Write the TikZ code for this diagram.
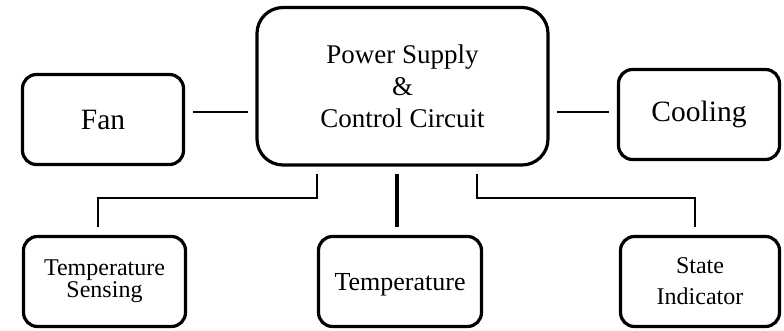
\documentclass[tikz,border=0pt]{standalone}
\usepackage{fontspec}
\setmainfont{Liberation Serif}
\begin{document}
\begin{tikzpicture}[x=1pt,y=-1pt]
\tikzset{
  box/.style={draw=black, line width=3.2pt, rounded corners=14pt, inner sep=0pt,
              align=center, minimum height=90pt},
  conn/.style={draw=black, line width=2.4pt, shorten <=7.5pt, shorten >=7.5pt},
}
\useasboundingbox (0,0) rectangle (784,331);

\node[box, rounded corners=26pt, minimum width=291pt, minimum height=157.5pt,
      font=\fontsize{27}{32}\selectfont] (central) at (402.5,86.25)
      {Power Supply\\\&\\Control Circuit};
\node[box, minimum width=161pt, font=\fontsize{29.5}{34}\selectfont] (fan) at (103,119.5) {Fan};
\node[box, minimum width=161pt, font=\fontsize{29.5}{34}\selectfont] (cool) at (699,114.5) {Cooling};
\node[box, minimum width=162pt, font=\fontsize{24}{22}\selectfont] (tsense) at (104.5,281.5) {Temperature\\Sensing};
\node[box, minimum width=163pt, text depth=0pt, font=\fontsize{26}{30}\selectfont] (temp) at (400,281.5) {Temperature};
\node[box, minimum width=159pt, font=\fontsize{24}{31}\selectfont] (state) at (700,281.5) {State\\Indicator};

\coordinate (hl) at (0,112);
\coordinate (bl) at (317,198);
\coordinate (tl) at (98,198);
\coordinate (br) at (477,198);
\coordinate (tr) at (695,198);
\coordinate (mid) at (397,0);

\draw[conn] (fan.east |- hl) -- (central.west |- hl);
\draw[conn] (central.east |- hl) -- (cool.west |- hl);
\draw[conn] (central.south -| bl) -- (bl) -- (tl) -- (tsense.north -| tl);
\draw[conn, line width=3.6pt] (central.south -| mid) -- (temp.north -| mid);
\draw[conn] (central.south -| br) -- (br) -- (tr) -- (state.north -| tr);
\end{tikzpicture}
\end{document}
